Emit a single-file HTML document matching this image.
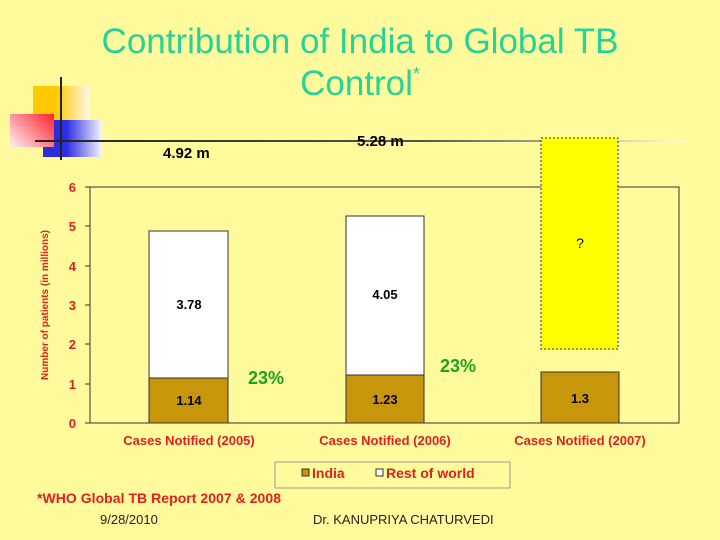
<!DOCTYPE html>
<html><head><style>
body{margin:0;width:720px;height:540px;background:#fffb9c;position:relative;overflow:hidden;font-family:"Liberation Sans",sans-serif}
div{position:absolute}
.t{color:#25d39a;font-size:35px;width:720px;text-align:center;left:0}
</style></head><body>
<div class="t" style="top:22px">Contribution of India to Global TB</div>
<div class="t" style="top:64px">Control<span style="font-size:18px;vertical-align:top">*</span></div>
<div style="left:33px;top:86px;width:56px;height:48px;background:linear-gradient(90deg,#ffc800 40%,#fff8e0)"></div>
<div style="left:43px;top:120px;width:58px;height:37px;background:linear-gradient(90deg,#2c2ce0 40%,#f0f0ff)"></div>
<div style="left:10px;top:114px;width:44px;height:33px;background:linear-gradient(225deg,#ff2030,#fff0f0)"></div>
<div style="left:60px;top:77px;width:2px;height:83px;background:#222"></div>
<div style="left:35px;top:140px;width:650px;height:2px;background:linear-gradient(90deg,#222,#555 60%,#fffde0)"></div>
<div style="left:163px;top:145px;font-size:15px;font-weight:bold">4.92 m</div>
<div style="left:357px;top:133px;font-size:15px;font-weight:bold">5.28 m</div>
<svg style="position:absolute;left:0;top:0" width="720" height="540">
<rect x="90" y="187" width="589" height="236" fill="#fffb9c" stroke="#333"/>
<g fill="#e02020" font-weight="bold" font-size="13" text-anchor="end">
<text x="76" y="428">0</text><text x="76" y="389">1</text><text x="76" y="349">2</text><text x="76" y="310">3</text><text x="76" y="271">4</text><text x="76" y="231">5</text><text x="76" y="192">6</text>
</g>
<g stroke="#333"><line x1="85" y1="423" x2="90" y2="423"/><line x1="85" y1="384" x2="90" y2="384"/><line x1="85" y1="344" x2="90" y2="344"/><line x1="85" y1="305" x2="90" y2="305"/><line x1="85" y1="266" x2="90" y2="266"/><line x1="85" y1="226" x2="90" y2="226"/><line x1="85" y1="187" x2="90" y2="187"/></g>
<text transform="translate(48,305) rotate(-90)" text-anchor="middle" fill="#e02020" font-size="10" font-weight="bold">Number of patients (in millions)</text>
<g stroke="#333">
<rect x="149" y="231" width="79" height="147" fill="#fff"/><rect x="149" y="378" width="79" height="45" fill="#c8960a"/>
<rect x="346" y="216" width="78" height="159" fill="#fff"/><rect x="346" y="375" width="78" height="48" fill="#c8960a"/>
<rect x="541" y="372" width="78" height="51" fill="#c8960a"/>
<rect x="541" y="138" width="77" height="211" fill="#ffff00" stroke-dasharray="2,2"/>
</g>
<g font-weight="bold" font-size="13" text-anchor="middle">
<text x="189" y="309">3.78</text><text x="189" y="405">1.14</text>
<text x="385" y="299">4.05</text><text x="385" y="404">1.23</text>
<text x="580" y="403">1.3</text><text x="580" y="248" font-size="14" font-weight="normal">?</text>
</g>
<g fill="#20a020" font-weight="bold" font-size="18"><text x="248" y="384">23%</text><text x="440" y="372">23%</text></g>
<g fill="#e02020" font-weight="bold" font-size="13" text-anchor="middle">
<text x="189" y="445">Cases Notified (2005)</text><text x="385" y="445">Cases Notified (2006)</text><text x="580" y="445">Cases Notified (2007)</text>
</g>
<rect x="275" y="462" width="235" height="26" fill="#fffb9c" stroke="#999"/>
<rect x="302" y="469" width="7" height="7" fill="#c8960a" stroke="#333"/>
<rect x="376" y="469" width="7" height="7" fill="#fff" stroke="#333"/>
<g fill="#e02020" font-weight="bold" font-size="14"><text x="312" y="478">India</text><text x="386" y="478">Rest of world</text></g>
<text x="37" y="503" fill="#e02020" font-weight="bold" font-size="14" textLength="244">*WHO Global TB Report 2007 &amp; 2008</text>
<text x="100" y="524" font-size="13" fill="#222">9/28/2010</text>
<text x="313" y="524" font-size="13" fill="#222">Dr. KANUPRIYA CHATURVEDI</text>
</svg>
</body></html>
